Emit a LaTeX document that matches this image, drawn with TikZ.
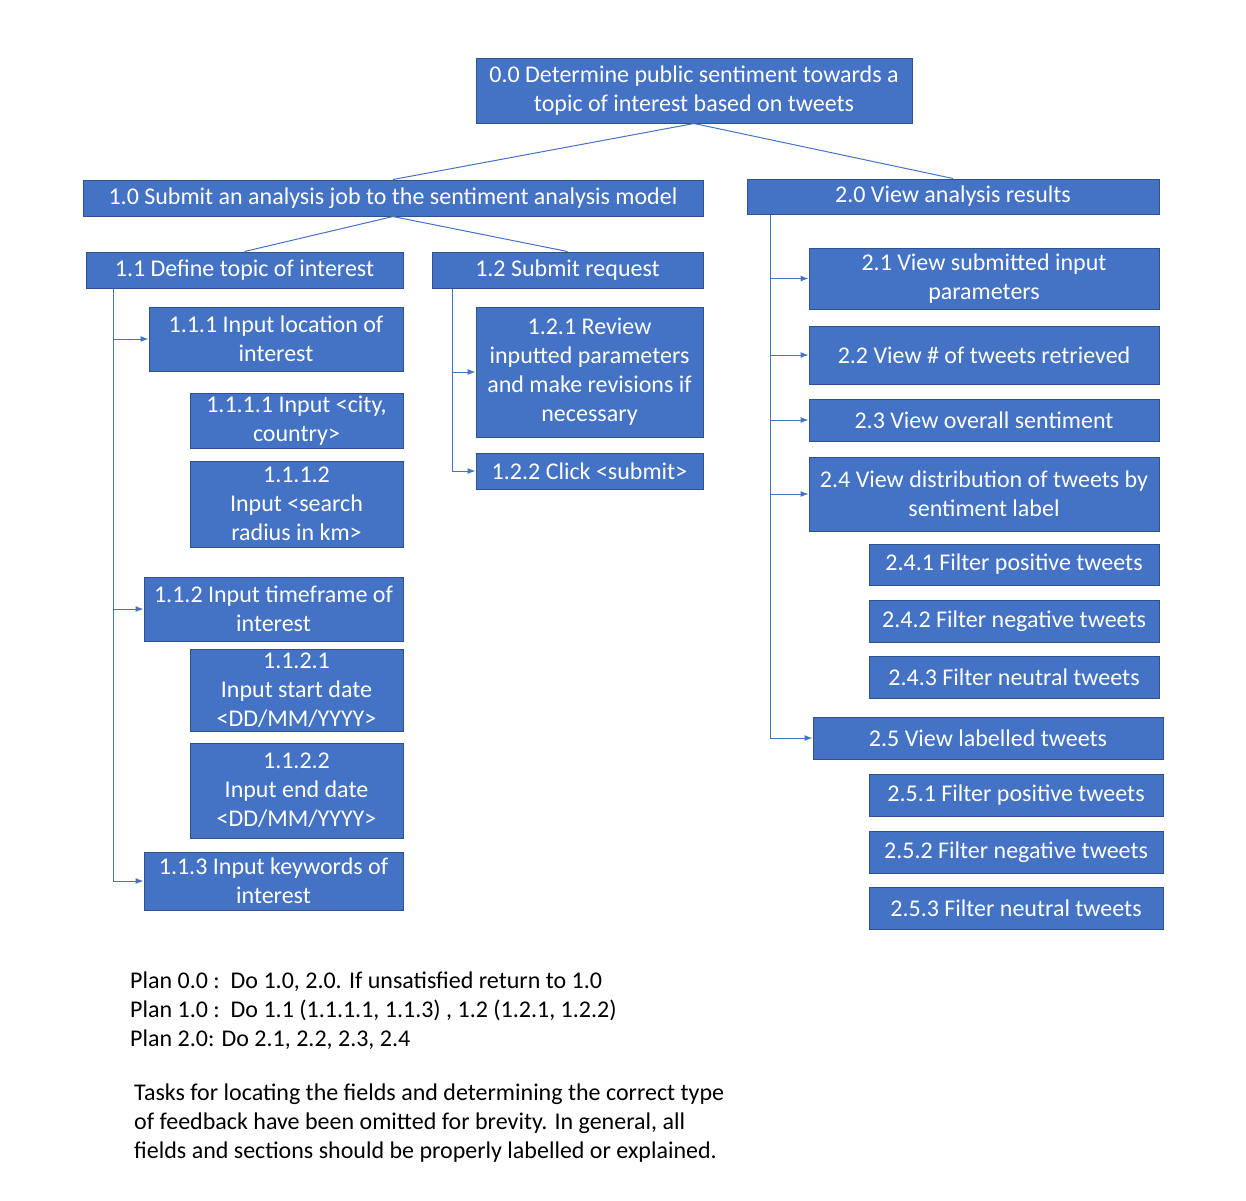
\documentclass[tikz,border=0pt]{standalone}
\usepackage{fontspec}
\setmainfont{Carlito}
\usetikzlibrary{positioning}
\usetikzlibrary{arrows.meta}
\definecolor{boxblue}{HTML}{4472C4}
\definecolor{edgeblue}{HTML}{2F528F}
\tikzset{>={Latex[length=8pt,width=6pt]}}
\tikzset{task/.style={draw=edgeblue, line width=1pt, fill=boxblue, text=white, align=center, inner sep=0pt, font=\fontsize{24}{29}\selectfont}}
\tikzset{link/.style={draw=boxblue, line width=1pt}}
\tikzset{plain/.style={anchor=west, align=left, inner sep=0pt, text=black, font=\fontsize{24}{29}\selectfont}}

\begin{document}
\begin{tikzpicture}[x=1pt, y=-1pt]
\useasboundingbox (0,0) rectangle (1246,1200);

\node[task, minimum width=436, minimum height=65] (n00) at (694, 90.5) {0.0 Determine public sentiment towards a\\topic of interest based on tweets};

\node[task, minimum width=620, minimum height=36] (n10) at (393, 198) {1.0 Submit an analysis job to the sentiment analysis model};
\node[task, minimum width=412, minimum height=35] (n20) at (953, 196.5) {2.0 View analysis results};

\node[task, minimum width=317, minimum height=36] (n11) at (244.5, 270) {1.1 Define topic of interest};
\node[task, minimum width=271, minimum height=36] (n12) at (567.5, 270) {1.2 Submit request};

\node[task, minimum width=254, minimum height=64] (n111) at (276, 339) {1.1.1 Input location of\\interest};
\node[task, minimum width=213, minimum height=55] (n1111) at (296.5, 420.5) {1.1.1.1 Input <city,\\country>};
\node[task, minimum width=213, minimum height=86] (n1112) at (296.5, 504) {1.1.1.2\\Input <search\\radius in km>};
\node[task, minimum width=259, minimum height=64] (n112) at (273.5, 609) {1.1.2 Input timeframe of\\interest};
\node[task, minimum width=213, minimum height=82] (n1121) at (296.5, 690) {1.1.2.1\\Input start date\\<DD/MM/YYYY>};
\node[task, minimum width=213, minimum height=95] (n1122) at (296.5, 790.5) {1.1.2.2\\Input end date\\<DD/MM/YYYY>};
\node[task, minimum width=259, minimum height=58] (n113) at (273.5, 881) {1.1.3 Input keywords of\\interest};

\node[task, minimum width=227, minimum height=130] (n121) at (589.5, 372) {1.2.1 Review\\inputted parameters\\and make revisions if\\necessary};
\node[task, minimum width=227, minimum height=36] (n122) at (589.5, 471) {1.2.2 Click <submit>};

\node[task, minimum width=350, minimum height=61] (n21) at (984, 278.5) {2.1 View submitted input\\parameters};
\node[task, minimum width=350, minimum height=58] (n22) at (984, 355) {2.2 View \# of tweets retrieved};
\node[task, minimum width=350, minimum height=42] (n23) at (984, 420) {2.3 View overall sentiment};
\node[task, minimum width=350, minimum height=74] (n24) at (984, 494) {2.4 View distribution of tweets by\\sentiment label};
\node[task, minimum width=290, minimum height=41] (n241) at (1014, 564.5) {2.4.1 Filter positive tweets};
\node[task, minimum width=290, minimum height=42] (n242) at (1014, 621) {2.4.2 Filter negative tweets};
\node[task, minimum width=290, minimum height=42] (n243) at (1014, 677) {2.4.3 Filter neutral tweets};
\node[task, minimum width=350, minimum height=42] (n25) at (988, 738) {2.5 View labelled tweets};
\node[task, minimum width=294, minimum height=42] (n251) at (1016, 795) {2.5.1 Filter positive tweets};
\node[task, minimum width=294, minimum height=42] (n252) at (1016, 852) {2.5.2 Filter negative tweets};
\node[task, minimum width=294, minimum height=42] (n253) at (1016, 908) {2.5.3 Filter neutral tweets};

% tree lines
\draw[link] (n00.south) -- (n10.north);
\draw[link] (n00.south) -- (n20.north);
\draw[link] (n10.south) -- (n11.north);
\draw[link] (n10.south) -- (n12.north);

% elbow arrows
\draw[link, ->] ([xshift=28]n11.south west) |- (n111.west);
\draw[link, ->] ([xshift=28]n11.south west) |- (n112.west);
\draw[link, ->] ([xshift=28]n11.south west) |- (n113.west);

\draw[link, ->] ([xshift=21]n12.south west) |- (n121.west);
\draw[link, ->] ([xshift=21]n12.south west) |- (n122.west);

\draw[link, ->] ([xshift=24]n20.south west) |- (n21.west);
\draw[link, ->] ([xshift=24]n20.south west) |- (n22.west);
\draw[link, ->] ([xshift=24]n20.south west) |- (n23.west);
\draw[link, ->] ([xshift=24]n20.south west) |- (n24.west);
\draw[link, ->] ([xshift=24]n20.south west) |- (n25.west);

% plans and note
\node[plain] (plans) at (130, 1011) {Plan 0.0 :\ \ Do 1.0, 2.0. If unsatisfied return to 1.0\\Plan 1.0 :\ \ Do 1.1 (1.1.1.1, 1.1.3) , 1.2 (1.2.1, 1.2.2)\\Plan 2.0: Do 2.1, 2.2, 2.3, 2.4};
\node[plain] (note) at (134, 1123) {Tasks for locating the fields and determining the correct type\\of feedback have been omitted for brevity. In general, all\\fields and sections should be properly labelled or explained.};

\end{tikzpicture}
\end{document}
